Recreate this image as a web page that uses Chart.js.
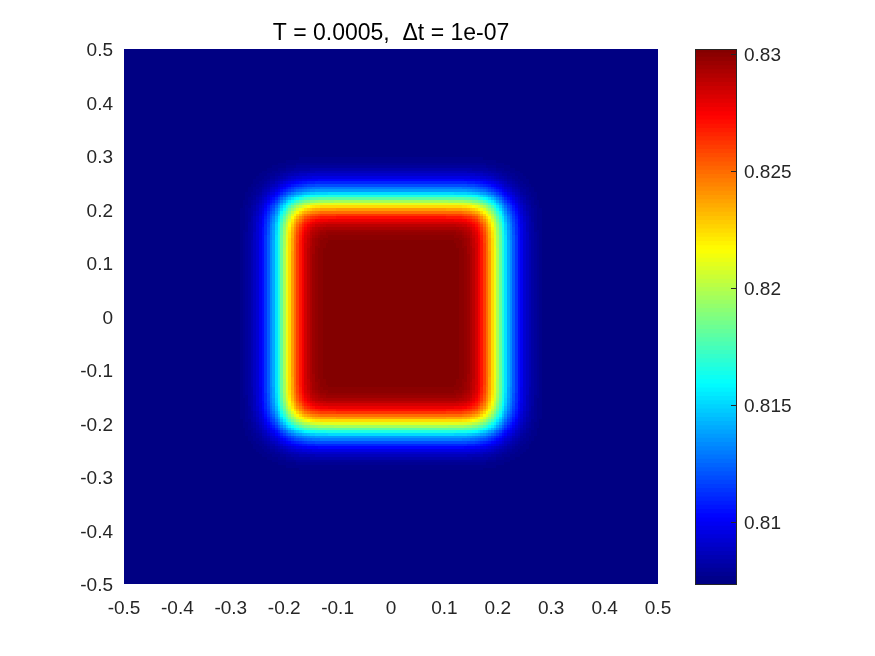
<!DOCTYPE html>
<html>
<head>
<meta charset="utf-8">
<script src="https://cdn.jsdelivr.net/npm/chart.js@4.4.1/dist/chart.umd.min.js"></script>
<style>
  html, body { margin: 0; padding: 0; background: #fff; }
  #wrap { position: relative; width: 875px; height: 656px; }
  #wrap canvas { position: absolute; left: 0; top: 0; }
</style>
</head>
<body>
<div id="wrap">
  <canvas id="field" width="875" height="656"></canvas>
  <canvas id="cbar" width="875" height="656"></canvas>
</div>
<script>
const titleText = 'T = 0.0005,  \u0394t = 1e-07';

// grid spacing of the profiles below
const gridStep = 0.005;

// u(x, 0), at |x| = 0, 0.005, 0.010, ...
const xProfile = [
  0.83020, 0.83020, 0.83020, 0.83020, 0.83020, 0.83020, 0.83020, 0.83020, 0.83020, 0.83020,
  0.83020, 0.83020, 0.83020, 0.83020, 0.83020, 0.83020, 0.83020, 0.83020, 0.83020, 0.83020,
  0.83020, 0.83018, 0.83017, 0.83015, 0.83011, 0.83006, 0.82999, 0.82988, 0.82972, 0.82949,
  0.82919, 0.82880, 0.82832, 0.82768, 0.82690, 0.82599, 0.82493, 0.82377, 0.82248, 0.82111,
  0.81967, 0.81820, 0.81667, 0.81527, 0.81396, 0.81325, 0.81222, 0.81131, 0.81051, 0.80982,
  0.80925, 0.80877, 0.80838, 0.80808, 0.80785, 0.80767, 0.80755, 0.80746, 0.80739, 0.80736,
  0.80733, 0.80732
];

// u(0, y), at |y - yCenter| = 0, 0.005, ...
const yCenter = 0.005;
const yProfile = [
  0.83020, 0.83020, 0.83020, 0.83020, 0.83020, 0.83020, 0.83020, 0.83020, 0.83020, 0.83020,
  0.83020, 0.83020, 0.83020, 0.83020, 0.83020, 0.83020, 0.83020, 0.83020, 0.83020, 0.83020,
  0.83020, 0.83020, 0.83020, 0.83019, 0.83018, 0.83015, 0.83013, 0.83009, 0.83002, 0.82993,
  0.82976, 0.82958, 0.82928, 0.82889, 0.82841, 0.82777, 0.82699, 0.82610, 0.82500, 0.82377,
  0.82248, 0.82102, 0.81948, 0.81802, 0.81648, 0.81502, 0.81373, 0.81291, 0.81188, 0.81096,
  0.81021, 0.80954, 0.80902, 0.80858, 0.80824, 0.80796, 0.80776, 0.80760, 0.80751, 0.80744,
  0.80739, 0.80736, 0.80733, 0.80732
];

// colour limits (background value and peak)
const vMin = 0.8073;
const vMax = 0.8302;

const xTicks = [-0.5, -0.4, -0.3, -0.2, -0.1, 0, 0.1, 0.2, 0.3, 0.4, 0.5];
const xTickLabels = ['-0.5', '-0.4', '-0.3', '-0.2', '-0.1', '0', '0.1', '0.2', '0.3', '0.4', '0.5'];
const yTicks = [-0.5, -0.4, -0.3, -0.2, -0.1, 0, 0.1, 0.2, 0.3, 0.4, 0.5];
const yTickLabels = ['-0.5', '-0.4', '-0.3', '-0.2', '-0.1', '0', '0.1', '0.2', '0.3', '0.4', '0.5'];
const cbTicks = [0.81, 0.815, 0.82, 0.825, 0.83];
const cbTickLabels = ['0.81', '0.815', '0.82', '0.825', '0.83'];

const fontFamily = '"Liberation Sans", Arial, Helvetica, sans-serif';
const tickColor = '#262626';

// jet colormap
const nLevels = 128;
function jet(t) {
  const c = (o) => Math.round(255 * Math.min(1, Math.max(0, 1.5 - Math.abs(4 * t - o))));
  return `rgb(${c(3)},${c(2)},${c(1)})`;
}
const palette = [];
for (let k = 0; k < nLevels; k++) palette.push(jet((k + 0.5) / nLevels));

function levelColor(v) {
  let k = Math.floor((v - vMin) / (vMax - vMin) * nLevels);
  if (k < 0) k = 0;
  if (k > nLevels - 1) k = nLevels - 1;
  return palette[k];
}

function profileAt(profile, d) {
  const i = Math.round(d / gridStep);
  return i < profile.length ? profile[i] : vMin;
}

// table of cells built from the two centre line profiles (separable field)
const cells = [];
const nCells = Math.round(1 / gridStep);
for (let k = 0; k <= nCells; k++) {
  const x = Math.round((-0.5 + k * gridStep) * 1000) / 1000;
  const fx = (profileAt(xProfile, Math.abs(x)) - vMin) / (vMax - vMin);
  for (let j = 0; j <= nCells; j++) {
    const y = Math.round((-0.5 + j * gridStep) * 1000) / 1000;
    const fy = (profileAt(yProfile, Math.abs(y - yCenter)) - vMin) / (vMax - vMin);
    cells.push({ x: x, y: y, v: vMin + (vMax - vMin) * fx * fy });
  }
}

const heatmapPlugin = {
  id: 'heatmap',
  beforeDatasetsDraw(chart) {
    const { ctx, chartArea, scales: { x, y } } = chart;
    ctx.save();
    ctx.beginPath();
    ctx.rect(chartArea.left, chartArea.top, chartArea.right - chartArea.left, chartArea.bottom - chartArea.top);
    ctx.clip();
    for (const c of cells) {
      const x0 = Math.round(x.getPixelForValue(c.x - gridStep / 2));
      const x1 = Math.round(x.getPixelForValue(c.x + gridStep / 2));
      const y0 = Math.round(y.getPixelForValue(c.y + gridStep / 2));
      const y1 = Math.round(y.getPixelForValue(c.y - gridStep / 2));
      ctx.fillStyle = levelColor(c.v);
      ctx.fillRect(x0, y0, x1 - x0, y1 - y0);
    }
    ctx.restore();
  }
};

new Chart(document.getElementById('field'), {
  type: 'scatter',
  data: { datasets: [] },
  options: {
    responsive: false,
    animation: false,
    layout: { padding: { left: 0, right: 217, top: 0, bottom: 0 } },
    plugins: {
      legend: { display: false },
      tooltip: { enabled: false },
      title: {
        display: true,
        text: titleText,
        fullSize: false,
        color: '#000',
        font: { family: fontFamily, size: 23, weight: 'normal', lineHeight: 1 },
        padding: { top: 22, bottom: 4 }
      }
    },
    scales: {
      x: {
        type: 'linear',
        min: -0.5,
        max: 0.5,
        grid: { display: false, drawTicks: false },
        border: { display: false },
        afterFit(s) { s.height = 72; },
        afterBuildTicks(s) { s.ticks = xTicks.map(v => ({ value: v })); },
        ticks: {
          color: tickColor,
          font: { family: fontFamily, size: 19 },
          padding: 13,
          maxRotation: 0,
          autoSkip: false,
          callback: (v, i) => xTickLabels[i]
        }
      },
      y: {
        type: 'linear',
        min: -0.5,
        max: 0.5,
        grid: { display: false, drawTicks: false },
        border: { display: false },
        afterFit(s) { s.width = 124; },
        afterBuildTicks(s) { s.ticks = yTicks.map(v => ({ value: v })); },
        ticks: {
          color: tickColor,
          font: { family: fontFamily, size: 19 },
          padding: 11,
          labelOffset: 2,
          autoSkip: false,
          callback: (v, i) => yTickLabels[i]
        }
      }
    }
  },
  plugins: [heatmapPlugin]
});

// colorbar: one floating bar per colour level
const levels = palette.map((c, k) => [vMin + (vMax - vMin) * k / nLevels, vMin + (vMax - vMin) * (k + 1) / nLevels]);

const colorbarFrame = {
  id: 'cbFrame',
  afterDatasetsDraw(chart) {
    const { ctx, chartArea: a, scales: { y } } = chart;
    ctx.save();
    ctx.strokeStyle = tickColor;
    ctx.lineWidth = 1;
    const l = Math.round(a.left), t = Math.round(a.top), r = Math.round(a.right), b = Math.round(a.bottom);
    ctx.strokeRect(l + 0.5, t + 0.5, r - l - 1, b - t - 1);
    ctx.beginPath();
    for (const v of cbTicks) {
      const py = Math.round(y.getPixelForValue(v)) + 0.5;
      ctx.moveTo(r - 6, py);
      ctx.lineTo(r, py);
    }
    ctx.stroke();
    ctx.restore();
  }
};

new Chart(document.getElementById('cbar'), {
  type: 'bar',
  data: {
    labels: [''],
    datasets: palette.map((c, k) => ({
      data: [levels[k]],
      backgroundColor: c,
      borderWidth: 0,
      grouped: false,
      barPercentage: 1,
      categoryPercentage: 1,
      inflateAmount: 0.6
    }))
  },
  options: {
    responsive: false,
    animation: false,
    layout: { padding: { left: 695, right: 78, top: 49, bottom: 71 } },
    plugins: {
      legend: { display: false },
      tooltip: { enabled: false },
      title: { display: false }
    },
    scales: {
      x: { display: false },
      y: {
        position: 'right',
        min: vMin,
        max: vMax,
        beginAtZero: false,
        grid: { display: false, drawTicks: false },
        border: { display: false },
        afterFit(s) { s.width = 60; },
        afterBuildTicks(s) { s.ticks = cbTicks.map(v => ({ value: v })); },
        ticks: {
          color: tickColor,
          font: { family: fontFamily, size: 19 },
          padding: 7,
          labelOffset: 2,
          autoSkip: false,
          callback: (v, i) => cbTickLabels[i]
        }
      }
    }
  },
  plugins: [colorbarFrame]
});
</script>
</body>
</html>
